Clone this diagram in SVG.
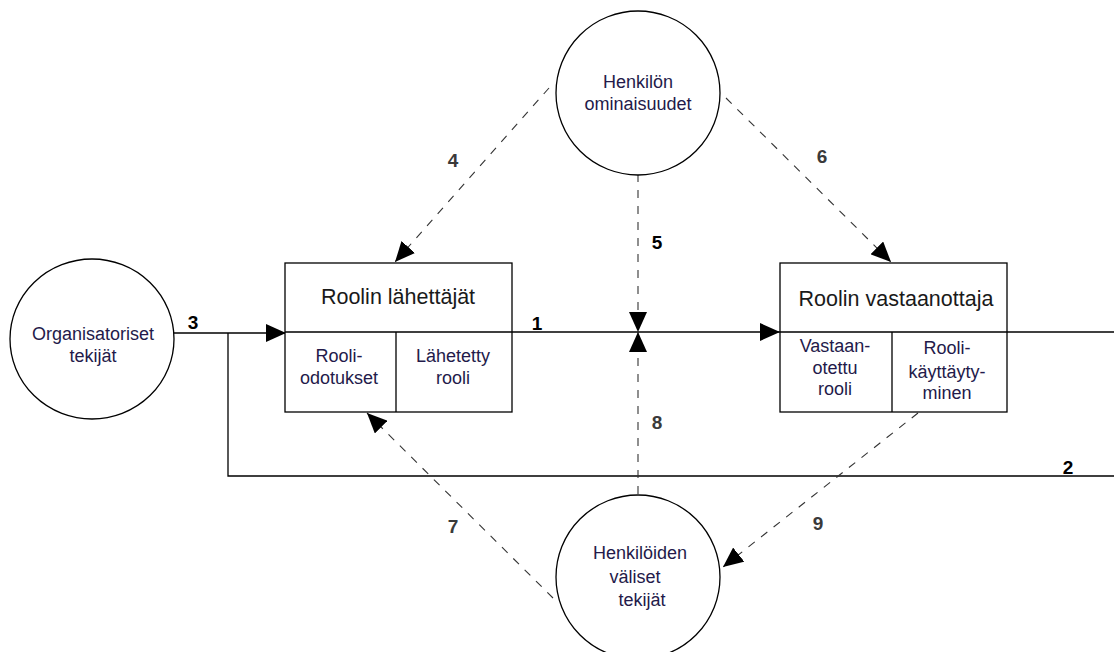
<svg xmlns="http://www.w3.org/2000/svg" width="1114" height="652" viewBox="0 0 1114 652">
  <style>
    .shape { fill: #ffffff; stroke: #000000; stroke-width: 1.3; }
    .line { fill: none; stroke: #000000; stroke-width: 1.3; }
    .dash { fill: none; stroke: #333333; stroke-width: 1.1; stroke-dasharray: 8 8; }
    .title { font-family: "Liberation Sans", Arial, sans-serif; font-size: 21.5px; fill: #1a1a1a; text-anchor: middle; }
    .sub { font-family: "Liberation Sans", Arial, sans-serif; font-size: 18px; fill: #231a4a; text-anchor: middle; }
    .circ { font-family: "Liberation Sans", Arial, sans-serif; font-size: 18px; fill: #231a4a; text-anchor: middle; }
    .num { font-family: "Liberation Sans", Arial, sans-serif; font-size: 19px; font-weight: bold; fill: #3a3a3a; text-anchor: middle; }
    .numk { font-family: "Liberation Sans", Arial, sans-serif; font-size: 19px; font-weight: bold; fill: #000000; text-anchor: middle; }
  </style>
  <defs>
    <marker id="head" viewBox="0 0 10 10" refX="10" refY="5" markerWidth="20" markerHeight="18" markerUnits="userSpaceOnUse" orient="auto" preserveAspectRatio="none">
      <path d="M0,0 L10,5 L0,10 Z" fill="#000000"/>
    </marker>
  </defs>

  <rect width="1114" height="652" fill="#ffffff"/>

  <!-- connectors -->
  <g id="connectors">
    <!-- 3: organisational factors into the senders -->
    <path class="line" d="M174,333 H286" marker-end="url(#head)"/>
    <!-- 2: feedback loop along the bottom -->
    <path class="line" d="M228,333 V476 H1114"/>
    <!-- 1: sent role to the receiver -->
    <path class="line" d="M512,332 H780" marker-end="url(#head)"/>
    <path class="line" d="M1007,332 H1114"/>
    <!-- 5 and 8 meet on line 1 -->
    <path class="dash" d="M638,174 V332" marker-end="url(#head)"/>
    <path class="dash" d="M638,494 V332" marker-end="url(#head)"/>
    <!-- 4 and 6 from personal attributes -->
    <path class="dash" d="M549,88 L395,262" marker-end="url(#head)"/>
    <path class="dash" d="M726,98 L891,262" marker-end="url(#head)"/>
    <!-- 7 and 9 via interpersonal factors -->
    <path class="dash" d="M553,598 L367,413" marker-end="url(#head)"/>
    <path class="dash" d="M918,413 L723,567" marker-end="url(#head)"/>
  </g>

  <!-- connector numbers -->
  <g id="labels">
    <text class="numk" x="193" y="329">3</text>
    <text class="numk" x="537" y="330">1</text>
    <text class="numk" x="1068" y="474">2</text>
    <text class="num" x="453" y="167">4</text>
    <text class="numk" x="657" y="249">5</text>
    <text class="num" x="822" y="163">6</text>
    <text class="num" x="453" y="533">7</text>
    <text class="num" x="657" y="429">8</text>
    <text class="num" x="818" y="530">9</text>
  </g>

  <g id="organisatoriset">
    <ellipse class="shape" cx="92" cy="339" rx="82" ry="80"/>
    <text class="circ" x="93" y="340">Organisatoriset</text>
    <text class="circ" x="93" y="362">tekijät</text>
  </g>

  <g id="henkilon-ominaisuudet">
    <circle class="shape" cx="638" cy="93" r="82"/>
    <text class="circ" x="638" y="88">Henkilön</text>
    <text class="circ" x="638" y="110">ominaisuudet</text>
  </g>

  <g id="henkiloiden-valiset">
    <circle class="shape" cx="638" cy="577" r="82"/>
    <text class="circ" x="640" y="559">Henkilöiden</text>
    <text class="circ" x="635" y="583">väliset</text>
    <text class="circ" x="642" y="606">tekijät</text>
  </g>

  <g id="roolin-lahettajat">
    <rect class="shape" x="285" y="263" width="227" height="149"/>
    <path class="line" d="M285,332 H512 M396,332 V412"/>
    <text class="title" x="398" y="304">Roolin lähettäjät</text>
    <text class="sub" x="339" y="362">Rooli-</text>
    <text class="sub" x="339" y="384">odotukset</text>
    <text class="sub" x="453" y="362">Lähetetty</text>
    <text class="sub" x="453" y="384">rooli</text>
  </g>

  <g id="roolin-vastaanottaja">
    <rect class="shape" x="780" y="263" width="227" height="149"/>
    <path class="line" d="M780,332 H1007 M892,332 V412"/>
    <text class="title" x="896" y="306">Roolin vastaanottaja</text>
    <text class="sub" x="835" y="352">Vastaan-</text>
    <text class="sub" x="835" y="374">otettu</text>
    <text class="sub" x="835" y="395">rooli</text>
    <text class="sub" x="947" y="354">Rooli-</text>
    <text class="sub" x="947" y="378">käyttäyty-</text>
    <text class="sub" x="947" y="399">minen</text>
  </g>
</svg>
